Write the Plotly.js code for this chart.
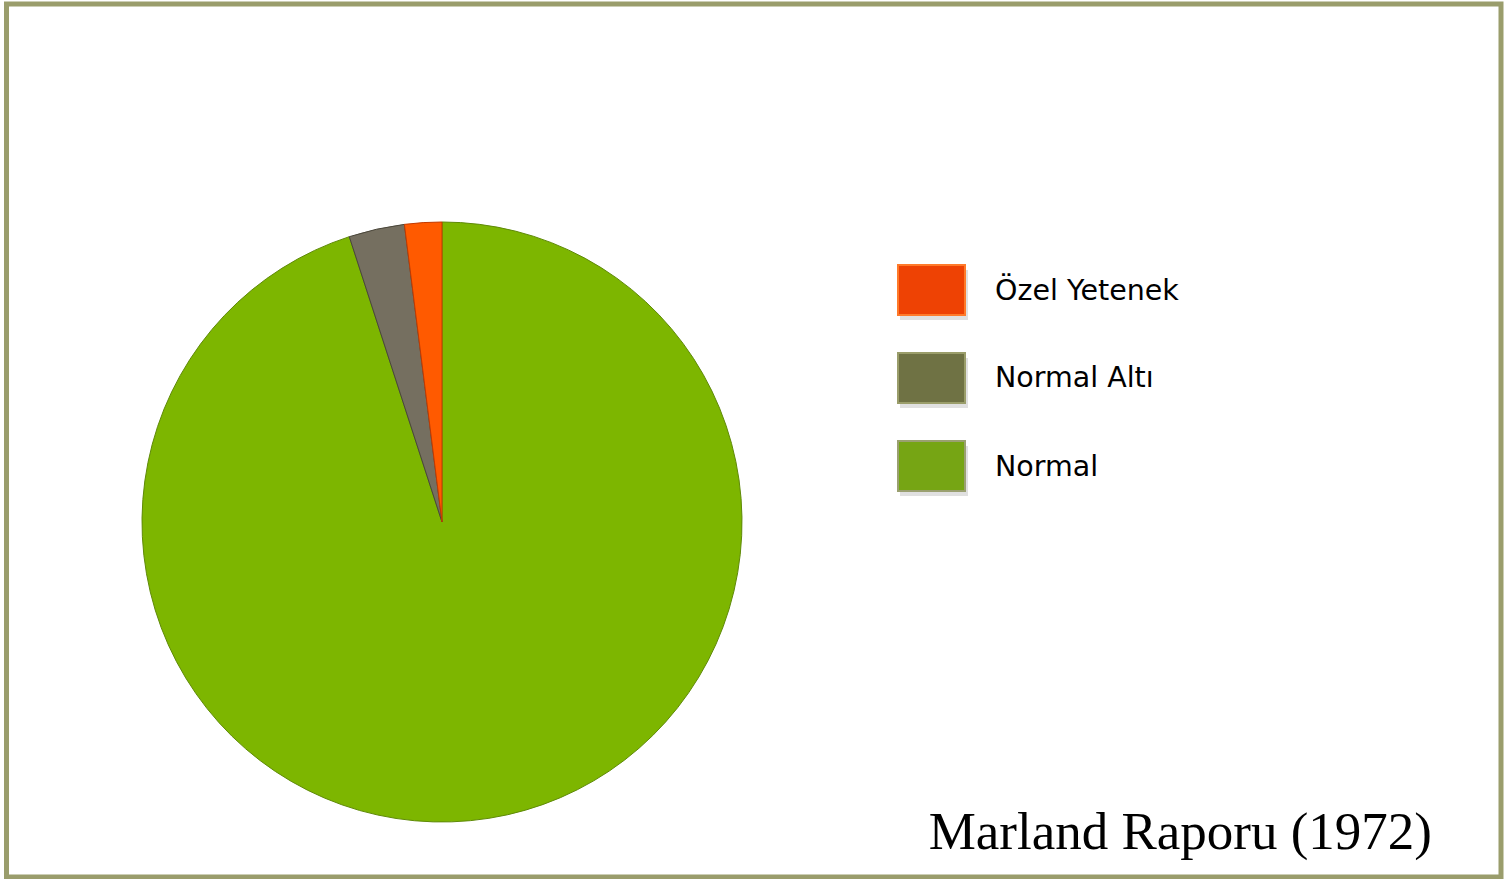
<!DOCTYPE html>
<html>
<head>
<meta charset="utf-8">
<script src="https://cdn.plot.ly/plotly-3.0.1.min.js"></script>
<style>html,body{margin:0;padding:0;background:#fff;}#chart{width:1505px;height:879px;}</style>
</head>
<body>
<div id="chart"></div>
<script>
// Data
const labels = ["Özel Yetenek", "Normal Altı", "Normal"];
const values = [2, 3, 95];
const sliceColors = ["#ff5a00", "#756f60", "#7db600"];
const sliceLines = ["#c23a00", "#4a463a", "#5f8a08"];
const swatchColors = ["#ee4204", "#6f7244", "#76a514"];
const swatchBorders = ["#ff7a2a", "#9a9d6a", "#9aa070"];
const chartTitle = "Marland Raporu (1972)";

const W = 1505, H = 879;
const px = x => x / W;
const py = y => 1 - y / H;

const shapes = [];
const annotations = [];
// frame
shapes.push({type: "rect", xref: "paper", yref: "paper",
  x0: px(6.5), x1: px(1501), y0: py(877), y1: py(4),
  line: {color: "#9a9d6c", width: 5}, fillcolor: "rgba(0,0,0,0)", layer: "above"});

// custom legend
labels.forEach((lab, i) => {
  const top = 265 + i * 88, bottom = top + 50;
  shapes.push({type: "rect", xref: "paper", yref: "paper",
    x0: px(900), x1: px(968), y0: py(bottom + 5), y1: py(top + 5),
    line: {width: 0}, fillcolor: "rgba(0,0,0,0.12)"});
  shapes.push({type: "rect", xref: "paper", yref: "paper",
    x0: px(898), x1: px(965), y0: py(bottom), y1: py(top),
    line: {color: swatchBorders[i], width: 2}, fillcolor: swatchColors[i]});
  annotations.push({xref: "paper", yref: "paper", x: px(993), y: py(top + 25),
    xanchor: "left", yanchor: "middle", showarrow: false, text: lab,
    font: {family: "DejaVu Sans, Verdana, sans-serif", size: 28.5, color: "#000"}});
});

// slices drawn clockwise from 12 o'clock in reverse order, so the first
// category ends up just left of 12 o'clock as in the reference
const rev = a => a.slice().reverse();

const data = [{
  type: "pie",
  labels: rev(labels),
  values: rev(values),
  sort: false,
  direction: "clockwise",
  rotation: 0,
  textinfo: "none",
  hoverinfo: "label+percent",
  marker: {colors: rev(sliceColors), line: {color: rev(sliceLines), width: 1}},
  domain: {x: [px(142), px(742)], y: [py(822), py(222)]},
  showlegend: false
}];

const layout = {
  width: W, height: H,
  margin: {l: 0, r: 0, t: 0, b: 0},
  paper_bgcolor: "#ffffff",
  showlegend: false,
  title: {text: chartTitle, x: px(1432), xanchor: "right", xref: "paper",
    y: py(830), yanchor: "middle", yref: "paper",
    font: {family: "Liberation Serif, Times New Roman, serif", size: 53, color: "#000"}},
  shapes: shapes,
  annotations: annotations
};

Plotly.newPlot("chart", data, layout, {displayModeBar: false, staticPlot: true});
</script>
</body>
</html>
